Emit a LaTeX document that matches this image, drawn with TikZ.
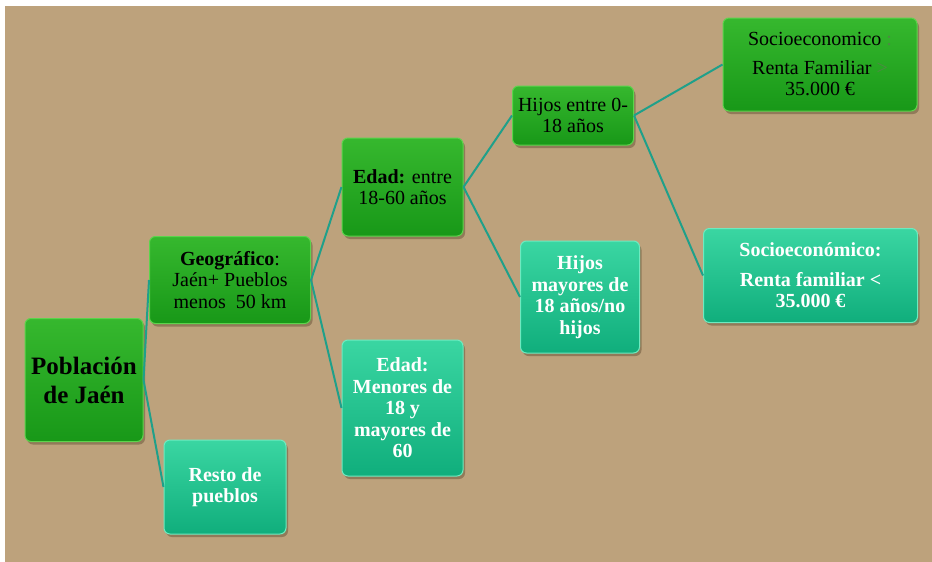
\documentclass[tikz,border=0pt]{standalone}
\usepackage{fontspec}
\setmainfont{Liberation Serif}
\usetikzlibrary{shadows}
\definecolor{tanbg}{HTML}{BDA27C}
\definecolor{gtop}{HTML}{36B82E}
\definecolor{gbot}{HTML}{189818}
\definecolor{gedge}{HTML}{5CD44C}
\definecolor{ttop}{HTML}{3AD6A2}
\definecolor{tbot}{HTML}{10AE7C}
\definecolor{tedge}{HTML}{6EEAC0}
\definecolor{linkc}{HTML}{1FA08A}
\definecolor{shadowc}{HTML}{6E5A3E}
\definecolor{faded}{HTML}{4E8A44}
\tikzset{
  boxbase/.style={rectangle, rounded corners=6pt, align=center, inner sep=2pt,
    draw, line width=1pt,
    drop shadow={shadow xshift=2pt, shadow yshift=-3pt, opacity=0.55, fill=shadowc},
    font={\fontsize{20}{21.5}\selectfont}},
  greenbox/.style={boxbase, draw=gedge, top color=gtop, bottom color=gbot, text=black},
  tealbox/.style={boxbase, draw=tedge, top color=ttop, bottom color=tbot, text=white,
    font={\fontsize{20}{21.5}\selectfont\bfseries}},
  link/.style={draw=linkc, line width=2pt}
}
\begin{document}
\begin{tikzpicture}[x=1pt, y=-1pt]
\useasboundingbox (0,0) rectangle (932,562);
\fill[white] (0,0) rectangle (932,562);
\fill[tanbg] (5,6) rectangle (932,562);

\node[greenbox, minimum width=118pt, minimum height=123pt,
  font={\fontsize{25}{29}\selectfont\bfseries}] (pob) at (84,380) {Población\\de Jaén};
\node[greenbox, minimum width=161pt, minimum height=87pt] (geo) at (230,280)
  {\textbf{Geográfico}:\\Jaén+ Pueblos\\menos\ \ 50 km};
\node[tealbox, minimum width=122pt, minimum height=94pt] (resto) at (225,487)
  {Resto de\\pueblos};
\node[greenbox, minimum width=121pt, minimum height=98pt] (edad1) at (402.5,187)
  {\textbf{Edad:} entre\\18-60 años};
\node[tealbox, minimum width=121pt, minimum height=136pt] (edad2) at (402.5,408)
  {Edad:\\Menores de\\18 y\\mayores de\\60};
\node[greenbox, minimum width=121pt, minimum height=59pt] (hijos1) at (573,115.5)
  {Hijos entre 0-\\18 años};
\node[tealbox, minimum width=119pt, minimum height=112pt] (hijos2) at (580,297)
  {Hijos\\mayores de\\18 años/no\\hijos};
\node[greenbox, minimum width=194pt, minimum height=93pt] (soc1) at (820,64.5)
  {Socioeconomico {\color{faded}:}\\[7pt]Renta Familiar {\color{faded}>}\\35.000 €};
\node[tealbox, minimum width=214pt, minimum height=94pt] (soc2) at (810.5,275.5)
  {Socioeconómico:\\[8pt]Renta familiar <\\35.000 €};

\draw[link] (pob.east) -- (geo.west);
\draw[link] (pob.east) -- (resto.west);
\draw[link] (geo.east) -- (edad1.west);
\draw[link] (geo.east) -- (edad2.west);
\draw[link] (edad1.east) -- (hijos1.west);
\draw[link] (edad1.east) -- (hijos2.west);
\draw[link] (hijos1.east) -- (soc1.west);
\draw[link] (hijos1.east) -- (soc2.west);
\end{tikzpicture}
\end{document}
